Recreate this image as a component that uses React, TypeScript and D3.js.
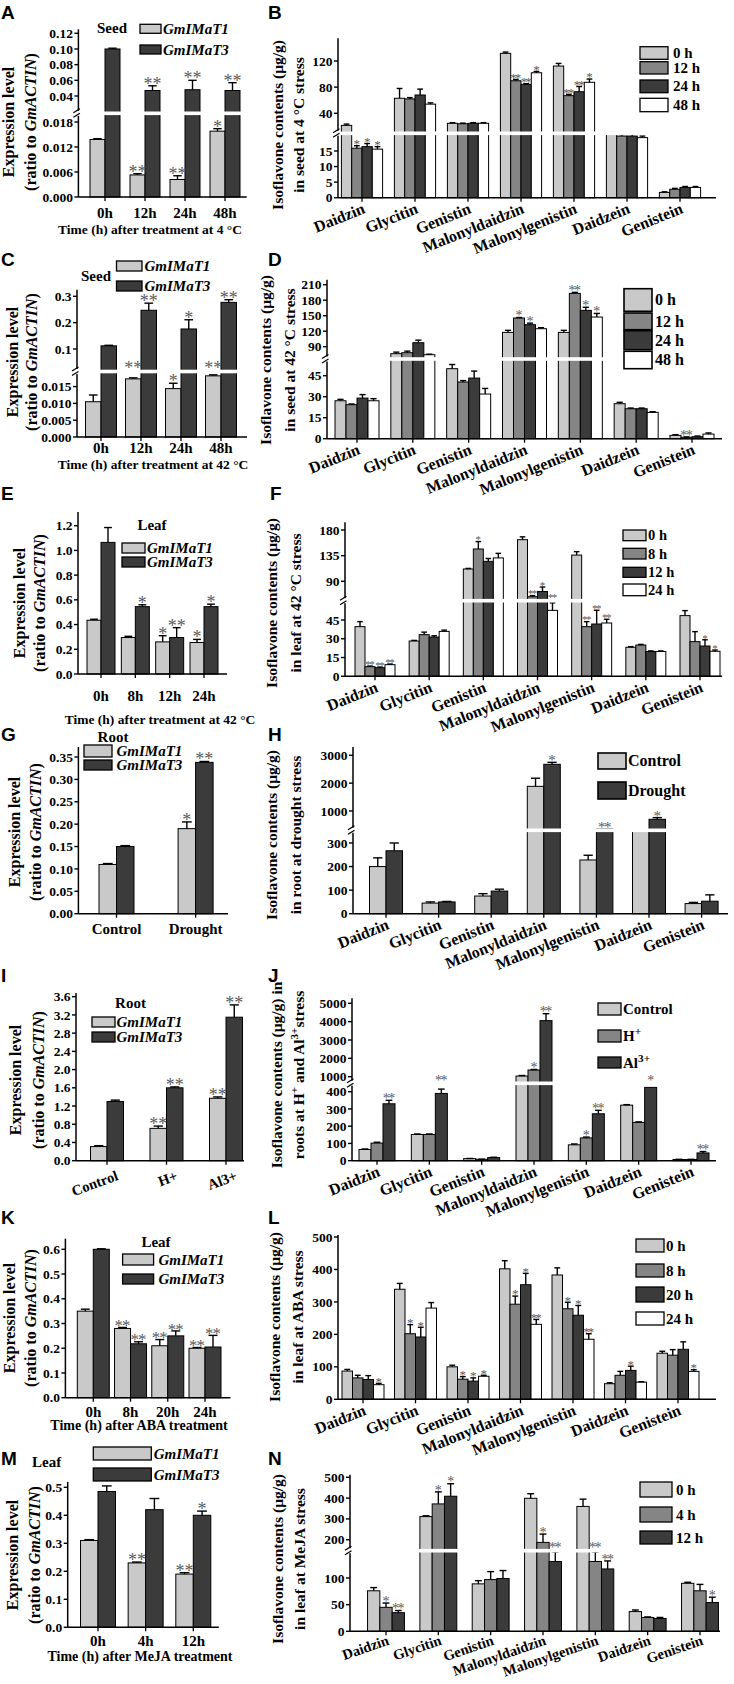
import React from "react";
import * as d3 from "d3";

const SERIF = "'Liberation Serif','Times New Roman',Times,serif";
const SANS = "'Liberation Sans',Arial,Helvetica,sans-serif";
const LIGHT = "#c9c9c9";
const MID = "#858585";
const DARK = "#3b3b3b";
const WHITE = "#ffffff";
const STAR = "#5a5a5a";

// ---------- categories / labels ----------
const hoursA = ["0h", "12h", "24h", "48h"];
const hoursE = ["0h", "8h", "12h", "24h"];
const hoursK = ["0h", "8h", "20h", "24h"];
const hoursM = ["0h", "4h", "12h"];
const droughtCats = ["Control", "Drought"];
const ionCats = ["Control", "H+", "Al3+"];
const compounds = ["Daidzin", "Glycitin", "Genistin", "Malonyldaidzin", "Malonylgenistin", "Daidzein", "Genistein"];
const genes = ["GmIMaT1", "GmIMaT3"];
const legB = ["0 h", "12 h", "24 h", "48 h"];
const legF = ["0 h", "8 h", "12 h", "24 h"];
const legL = ["0 h", "8 h", "20 h", "24 h"];
const legN = ["0 h", "4 h", "12 h"];
const legH = ["Control", "Drought"];
const legJ = ["Control", "H^+", "Al^3+"];

// ---------- A ----------
const aT1 = [0.0138, 0.0053, 0.0042, 0.0158];
const aT1Err = [0.0002, 0.0003, 0.0009, 0.0006];
const aT3 = [0.1, 0.047, 0.048, 0.047];
const aT3Err = [0.001, 0.006, 0.012, 0.01];
const aT1Sig = ["", "**", "**", "*"];
const aT3Sig = ["", "**", "**", "**"];
const aTicksLow = [0, 0.006, 0.012, 0.018];
const aTicksUp = [0.04, 0.06, 0.08, 0.1, 0.12];

// ---------- B ----------
const b0h = [21.5, 63, 24.7, 131.7, 112.3, 20.4, 1.7];
const b12h = [15.9, 62, 24, 89.8, 67, 19.8, 2.7];
const b24h = [16.4, 68, 24.7, 84.3, 73, 19.8, 3.3];
const b48h = [15.6, 54, 24.7, 102, 87.4, 19.3, 3.3];
const b0hErr = [2, 15, 1, 2, 4, 0.5, 0.2];
const b12hErr = [0.8, 2, 1, 2, 2, 0.5, 0.3];
const b24hErr = [1, 9, 1, 1, 8, 0.5, 0.3];
const b48hErr = [0.8, 2, 1, 2, 5, 0.5, 0.3];
const b0hSig = ["", "", "", "", "", "", ""];
const b12hSig = ["*", "", "", "**", "**", "", ""];
const b24hSig = ["*", "", "", "**", "**", "", ""];
const b48hSig = ["*", "", "", "*", "*", "", ""];
const bTicksLow = [0, 5, 10, 15];
const bTicksUp = [40, 80, 120];

// ---------- C ----------
const cT1 = [0.0105, 0.0173, 0.0144, 0.0182];
const cT1Err = [0.002, 0.0003, 0.0016, 0.0003];
const cT3 = [0.112, 0.247, 0.176, 0.277];
const cT3Err = [0.002, 0.027, 0.035, 0.01];
const cT1Sig = ["", "**", "*", "**"];
const cT3Sig = ["", "**", "*", "**"];
const cTicksLow = [0, 0.005, 0.01, 0.015];
const cTicksUp = [0.1, 0.2, 0.3];

// ---------- D ----------
const d0h = [27.1, 76.5, 50, 117.7, 117.7, 25, 2.4];
const d12h = [24.3, 78.4, 40.5, 145.5, 193.2, 21.4, 1];
const d24h = [29, 97.7, 43.3, 132.6, 160.3, 21.4, 1.4];
const d48h = [27.1, 74.5, 31.9, 124.8, 147.4, 18.8, 3.3];
const d0hErr = [1, 3, 3, 4, 4, 1, 0.5];
const d12hErr = [0.5, 3, 1, 1, 2, 0.5, 0.3];
const d24hErr = [2.5, 5, 5, 3, 6, 0.5, 0.5];
const d48hErr = [1.5, 1, 4, 2, 7, 0.5, 0.8];
const d0hSig = ["", "", "", "", "", "", ""];
const d12hSig = ["", "", "", "*", "**", "", "**"];
const d24hSig = ["", "", "", "*", "*", "", ""];
const d48hSig = ["", "", "", "", "*", "", ""];
const dTicksLow = [0, 15, 30, 45];
const dTicksUp = [90, 120, 150, 180, 210];

// ---------- E ----------
const eT1 = [0.435, 0.295, 0.26, 0.255];
const eT1Err = [0.008, 0.01, 0.05, 0.025];
const eT3 = [1.065, 0.545, 0.295, 0.545];
const eT3Err = [0.12, 0.015, 0.08, 0.02];
const eT1Sig = ["", "", "*", "*"];
const eT3Sig = ["", "*", "**", "*"];
const eTicks = [0, 0.2, 0.4, 0.6, 0.8, 1.0, 1.2];

// ---------- F ----------
const f0h = [39.7, 28.2, 111.6, 163, 136, 23.2, 48.5];
const f8h = [7.7, 33.3, 146.7, 63, 39.7, 25, 27.7];
const f12h = [6.9, 31.4, 125, 72, 41.8, 19.8, 24.2];
const f24h = [9.3, 35.9, 131, 52.7, 42.6, 19.8, 20];
const f0hErr = [4, 0.5, 1, 5, 6, 0.5, 4];
const f8hErr = [0.5, 2, 13, 2, 4, 0.5, 8];
const f12hErr = [0.5, 1, 5, 8, 11, 0.5, 5];
const f24hErr = [0.5, 1, 8, 6, 3, 0.5, 1];
const f0hSig = ["", "", "", "", "", "", ""];
const f8hSig = ["**", "", "*", "**", "**", "", ""];
const f12hSig = ["**", "", "", "*", "**", "", "*"];
const f24hSig = ["**", "", "", "**", "**", "", "*"];
const fTicksLow = [0, 15, 30, 45];
const fTicksUp = [90, 135, 180];

// ---------- G ----------
const gT1 = [0.11, 0.19];
const gT1Err = [0.002, 0.015];
const gT3 = [0.15, 0.338];
const gT3Err = [0.002, 0.002];
const gT1Sig = ["", "*"];
const gT3Sig = ["", "**"];
const gTicks = [0, 0.05, 0.1, 0.15, 0.2, 0.25, 0.3, 0.35];

// ---------- H ----------
const hControl = [200, 45, 75, 1886, 228, 352, 43];
const hControlErr = [37, 5, 10, 290, 20, 0, 5];
const hDrought = [267, 50, 96, 2677, 354, 702, 53];
const hDroughtErr = [33, 2, 8, 70, 0, 60, 27];
const hControlSig = ["", "", "", "", "", "", ""];
const hDroughtSig = ["", "", "", "*", "**", "*", ""];
const hTicksLow = [0, 100, 200, 300];
const hTicksUp = [1000, 2000, 3000];

// ---------- I ----------
const iT1 = [0.31, 0.71, 1.37];
const iT1Err = [0.02, 0.05, 0.03];
const iT3 = [1.3, 1.6, 3.15];
const iT3Err = [0.03, 0.02, 0.27];
const iT1Sig = ["", "**", "**"];
const iT3Sig = ["", "**", "**"];
const iTicks = [0, 0.4, 0.8, 1.2, 1.6, 2.0, 2.4, 2.8, 3.2, 3.6];

// ---------- J ----------
const jControl = [65, 152, 12, 1036, 92, 322, 7];
const jControlErr = [3, 3, 1, 30, 5, 3, 1];
const jH = [102, 152, 8, 1364, 132, 222, 7];
const jHErr = [5, 3, 1, 30, 5, 3, 1];
const jAl = [330, 390, 18, 4055, 272, 425, 45];
const jAlErr = [20, 25, 2, 380, 20, 0, 8];
const jControlSig = ["", "", "", "", "", "", ""];
const jHSig = ["", "", "", "*", "*", "", ""];
const jAlSig = ["**", "**", "", "**", "**", "*", "**"];
const jTicksLow = [0, 100, 200, 300, 400];
const jTicksUp = [1000, 2000, 3000, 4000, 5000];

// ---------- K ----------
const kT1 = [0.35, 0.28, 0.21, 0.2];
const kT1Err = [0.008, 0.004, 0.025, 0.003];
const kT3 = [0.6, 0.218, 0.25, 0.205];
const kT3Err = [0.002, 0.008, 0.02, 0.047];
const kT1Sig = ["", "**", "**", "**"];
const kT3Sig = ["", "**", "**", "**"];
const kTicks = [0, 0.1, 0.2, 0.3, 0.4, 0.5, 0.6];

// ---------- L ----------
const l0h = [87, 339, 100, 402, 383, 48, 142];
const l8h = [66, 202, 62, 293, 279, 74, 136];
const l20h = [61, 192, 56, 353, 259, 89, 154];
const l24h = [45, 281, 71, 231, 185, 53, 86];
const l0hErr = [5, 18, 5, 25, 22, 3, 6];
const l8hErr = [8, 28, 8, 25, 20, 12, 17];
const l20hErr = [12, 30, 10, 35, 30, 13, 23];
const l24hErr = [4, 17, 3, 15, 17, 1, 5];
const l0hSig = ["", "", "", "", "", "", ""];
const l8hSig = ["", "*", "*", "*", "*", "", ""];
const l20hSig = ["", "*", "*", "*", "*", "*", ""];
const l24hSig = ["*", "", "*", "**", "**", "", "*"];
const lTicks = [0, 100, 200, 300, 400, 500];

// ---------- M ----------
const mT1 = [0.31, 0.23, 0.19];
const mT1Err = [0.003, 0.003, 0.005];
const mT3 = [0.485, 0.42, 0.4];
const mT3Err = [0.02, 0.04, 0.015];
const mT1Sig = ["", "**", "**"];
const mT3Sig = ["", "", "*"];
const mTicks = [0, 0.1, 0.2, 0.3, 0.4, 0.5];

// ---------- N ----------
const n0h = [76, 311, 89, 399, 360, 37, 90];
const n4h = [45, 372, 97, 187, 131, 26, 76];
const n12h = [35, 409, 99, 131, 117, 24, 54];
const n0hErr = [6, 4, 6, 22, 35, 3, 2];
const n4hErr = [8, 58, 15, 40, 18, 1, 12];
const n12hErr = [4, 60, 15, 18, 15, 2, 10];
const n0hSig = ["", "", "", "", "", "", ""];
const n4hSig = ["*", "*", "", "*", "**", "", ""];
const n12hSig = ["**", "*", "", "**", "**", "", "*"];
const nTicksLow = [0, 50, 100];
const nTicksUp = [200, 300, 400, 500];

// ---------- helpers ----------
const ser = (names: string[], colors: string[], vals: number[][], errs: number[][], sigs: string[][]) =>
  names.map((name, i) => ({ name, color: colors[i], vals: vals[i], errs: errs[i], sig: sigs[i] }));

function richLabel(s: string) {
  const i = s.indexOf("^");
  if (i < 0) return s;
  return [
    <tspan key="a">{s.slice(0, i)}</tspan>,
    <tspan key="b" baselineShift="super" fontSize="75%">{s.slice(i + 1)}</tspan>,
  ];
}

function parts(p: any[]) {
  return p.map((q: any, k: number) => {
    if (q[1] === "i") return <tspan key={k} fontStyle="italic">{q[0]}</tspan>;
    if (q[1] === "s") return <tspan key={k} baselineShift="super" fontSize="72%">{q[0]}</tspan>;
    return <tspan key={k}>{q[0]}</tspan>;
  });
}

const exprTitle = [[["Expression level"]], [["(ratio to "], ["GmACTIN", "i"], [")"]]];
const isoTitle = (l2: any[]) => [[["Isoflavone contents (\u03bcg/g)"]], l2];

function Panel({ c }: { c: any }) {
  const low = d3.scaleLinear().domain(c.low.d).range(c.low.r);
  const up = c.up ? d3.scaleLinear().domain(c.up.d).range(c.up.r) : null;
  const thr = up ? low.invert(c.breakY) : Infinity;
  const sc = (v: number) => (up && v > thr ? up : low);
  const x = d3.scalePoint<string>().domain(c.cats).range(c.centers);
  const n = c.series.length;
  const bw = c.barW;
  const starFs = c.starFs || 14;
  const starLs = c.starLs !== undefined ? c.starLs : -1.5;
  const tickFs = c.tickFs || 13.5;

  const bars: any[] = [];
  const errs: any[] = [];
  const stars: any[] = [];
  c.cats.forEach((cat: string, j: number) => {
    const cx = x(cat) as number;
    c.series.forEach((s: any, i: number) => {
      const v = s.vals[j];
      const s0 = sc(v);
      const x0 = cx - (n * bw) / 2 + i * bw;
      const yv = s0(v);
      bars.push(
        <rect key={`b${i}-${j}`} x={x0} y={yv} width={bw} height={c.baseY - yv} fill={s.color} stroke="#000" strokeWidth={1} />
      );
      const e = s.errs[j];
      const ye = s0(v + e);
      const bc = x0 + bw / 2;
      if (e > 0) {
        errs.push(
          <g key={`e${i}-${j}`} stroke="#000" strokeWidth={1.4}>
            <line x1={bc} x2={bc} y1={yv} y2={ye} />
            <line x1={bc - bw * 0.28} x2={bc + bw * 0.28} y1={ye} y2={ye} />
          </g>
        );
      }
      const sg = s.sig[j];
      if (sg) {
        let bottom = ye - 1.5;
        if (up && bottom > c.breakY - 3 && bottom < c.breakY + 6) bottom = c.breakY - 3;
        stars.push(
          <text key={`s${i}-${j}`} x={bc + (sg.length > 1 ? starLs / 2 : 0)} y={bottom + starFs * 0.3} textAnchor="middle" fontSize={starFs} fill={STAR} fontFamily={SERIF} letterSpacing={sg.length > 1 ? starLs : 0}>
            {sg}
          </text>
        );
      }
    });
  });

  const tickEls: any[] = [];
  const addTicks = (scale: any, ticks: number[], fmt: string, key: string) => {
    const f = d3.format(fmt);
    ticks.forEach((t, k) => {
      const y = scale(t);
      tickEls.push(
        <g key={`${key}${k}`}>
          <line x1={c.axisX - 4} x2={c.axisX} y1={y} y2={y} stroke="#000" strokeWidth={1.4} />
          <text x={c.axisX - 5.5} y={y + tickFs * 0.34} textAnchor="end" fontSize={tickFs} fontWeight="bold" fontFamily={SERIF}>
            {f(t)}
          </text>
        </g>
      );
    });
  };
  addTicks(low, c.lowTicks, c.lowFmt, "l");
  if (up) addTicks(up, c.upTicks, c.upFmt, "u");

  const cl = c.cat;
  const catEls = c.cats.map((cat: string, j: number) => {
    const cx = x(cat) as number;
    if (cl.rotate) {
      const tx = cx + cl.dx;
      const ty = c.baseY + cl.dy;
      return (
        <text key={`c${j}`} transform={`translate(${tx},${ty}) rotate(${cl.rotate})`} textAnchor="end" fontSize={cl.fs} fontWeight="bold" fontFamily={SERIF}>
          {cat}
        </text>
      );
    }
    return (
      <text key={`c${j}`} x={cx} y={c.baseY + cl.dy} textAnchor="middle" fontSize={cl.fs} fontWeight="bold" fontFamily={SERIF}>
        {cat}
      </text>
    );
  });

  const yt = c.yTitle;
  const lg = c.legend;

  return (
    <g>
      <text x={c.letter[1]} y={c.letter[2]} fontSize={19} fontWeight="bold" fontFamily={SANS}>
        {c.letter[0]}
      </text>
      {bars}
      {errs}
      {up && <rect x={c.axisX + 0.8} y={c.breakY - 1.8} width={c.axisEnd - c.axisX} height={3.6} fill="#fff" />}
      {up ? (
        <g stroke="#000" strokeWidth={1.5}>
          <line x1={c.axisX} x2={c.axisX} y1={c.topY} y2={c.breakY - 2.5} />
          <line x1={c.axisX} x2={c.axisX} y1={c.breakY + 2.5} y2={c.baseY} />
          <line x1={c.axisX - 5} x2={c.axisX + 1.5} y1={c.breakY - 0.5} y2={c.breakY - 4.5} strokeWidth={1.3} />
          <line x1={c.axisX - 5} x2={c.axisX + 1.5} y1={c.breakY + 4} y2={c.breakY} strokeWidth={1.3} />
        </g>
      ) : (
        <line x1={c.axisX} x2={c.axisX} y1={c.topY} y2={c.baseY} stroke="#000" strokeWidth={1.5} />
      )}
      <line x1={c.axisX} x2={c.axisEnd} y1={c.baseY} y2={c.baseY} stroke="#000" strokeWidth={1.5} />
      {c.cats.map((cat: string, j: number) => (
        <line key={`xt${j}`} x1={x(cat) as number} x2={x(cat) as number} y1={c.baseY} y2={c.baseY + 4} stroke="#000" strokeWidth={1.3} />
      ))}
      {tickEls}
      {catEls}
      {stars}
      {yt.lines.map((ln: any, k: number) => (
        <text key={`yt${k}`} transform={`translate(${yt.xs[k]},${yt.cy}) rotate(-90)`} textAnchor="middle" fontSize={yt.fs} fontWeight="bold" fontFamily={SERIF}>
          {parts(ln)}
        </text>
      ))}
      {c.xTitle && (
        <text x={c.xTitle.x} y={c.xTitle.y} textAnchor="middle" fontSize={c.xTitle.fs} fontWeight="bold" fontFamily={SERIF}>
          {c.xTitle.text}
        </text>
      )}
      {lg && (
        <g>
          {lg.title && (
            <text x={lg.titleX} y={lg.titleY} textAnchor="middle" fontSize={15} fontWeight="bold" fontFamily={SERIF}>
              {lg.title}
            </text>
          )}
          {c.series.map((s: any, i: number) => {
            const [y0, y1] = lg.boxes[i];
            return (
              <g key={`lg${i}`}>
                <rect x={lg.boxX} y={y0} width={lg.boxW} height={y1 - y0} fill={s.color} stroke="#000" strokeWidth={lg.sw || 1.3} />
                <text x={lg.labelX} y={(y0 + y1) / 2 + lg.fs * 0.34} fontSize={lg.fs} fontWeight="bold" fontStyle={lg.italic ? "italic" : "normal"} fontFamily={SERIF}>
                  {richLabel(s.name)}
                </text>
              </g>
            );
          })}
        </g>
      )}
    </g>
  );
}

const two = [LIGHT, DARK];
const four = [LIGHT, MID, DARK, WHITE];
const three = [LIGHT, MID, DARK];
const rotCat = { rotate: -22, dx: 4, dy: 15, fs: 16 };
const rotCatN = { rotate: -19, dx: 4, dy: 13, fs: 14.5 };
const ISO_FS = 15.5;

const panels: any[] = [
  {
    letter: ["A", 1, 19],
    axisX: 78.4, axisEnd: 246.7, baseY: 197, topY: 29.3,
    low: { d: [0, 0.018], r: [197, 122] }, up: { d: [0.04, 0.12], r: [96, 33.3] }, breakY: 113.3,
    lowTicks: aTicksLow, upTicks: aTicksUp, lowFmt: ".3f", upFmt: ".2f",
    cats: hoursA, centers: [105, 225], barW: 15, starFs: 18, starLs: 0,
    series: ser(genes, two, [aT1, aT3], [aT1Err, aT3Err], [aT1Sig, aT3Sig]),
    cat: { rotate: 0, dy: 21, fs: 15 },
    yTitle: { lines: exprTitle, xs: [14, 36], cy: 122, fs: 16 },
    xTitle: { text: "Time (h) after treatment at 4 \u00b0C", x: 150, y: 234, fs: 13.5 },
    legend: { title: "Seed", titleX: 112, titleY: 33, boxX: 140, boxW: 21, boxes: [[24.3, 33.3], [45, 54]], labelX: 163, italic: true, fs: 15 },
  },
  {
    letter: ["B", 268, 19],
    axisX: 338, axisEnd: 716, baseY: 197.7, topY: 38.3,
    low: { d: [0, 15], r: [197.7, 151] }, up: { d: [40, 120], r: [113.3, 61] }, breakY: 133.3,
    lowTicks: bTicksLow, upTicks: bTicksUp, lowFmt: "d", upFmt: "d",
    cats: compounds, centers: [362, 680], barW: 10.3, starFs: 13, starLs: -2,
    series: ser(legB, four, [b0h, b12h, b24h, b48h], [b0hErr, b12hErr, b24hErr, b48hErr], [b0hSig, b12hSig, b24hSig, b48hSig]),
    cat: rotCat,
    yTitle: { lines: isoTitle([["in seed at 4 \u00b0C stress"]]), xs: [283, 304], cy: 125, fs: ISO_FS },
    legend: { boxX: 640, boxW: 28, boxes: [[46.7, 59.3], [61.7, 74], [80, 92.7], [98.3, 111.7]], labelX: 673, fs: 15 },
  },
  {
    letter: ["C", 1, 266],
    axisX: 77, axisEnd: 247, baseY: 437, topY: 289.7,
    low: { d: [0, 0.015], r: [437, 386.6] }, up: { d: [0.1, 0.3], r: [349, 296.3] }, breakY: 371.5,
    lowTicks: cTicksLow, upTicks: cTicksUp, lowFmt: ".3f", upFmt: ".1f",
    cats: hoursA, centers: [101, 221], barW: 15.5, starFs: 18, starLs: 0,
    series: ser(genes, two, [cT1, cT3], [cT1Err, cT3Err], [cT1Sig, cT3Sig]),
    cat: { rotate: 0, dy: 16, fs: 15 },
    yTitle: { lines: exprTitle, xs: [18, 37], cy: 362, fs: 16 },
    xTitle: { text: "Time (h) after treatment at 42 \u00b0C", x: 153, y: 469, fs: 13.5 },
    legend: { title: "Seed", titleX: 96, titleY: 281, boxX: 116.5, boxW: 25.5, boxes: [[261, 271], [281, 291]], labelX: 144.5, italic: true, fs: 15 },
  },
  {
    letter: ["D", 268, 266],
    axisX: 327, axisEnd: 722, baseY: 438.7, topY: 279.7,
    low: { d: [0, 45], r: [438.7, 375.7] }, up: { d: [90, 210], r: [346.7, 284.7] }, breakY: 359,
    lowTicks: dTicksLow, upTicks: dTicksUp, lowFmt: "d", upFmt: "d",
    cats: compounds, centers: [357, 692], barW: 11, starFs: 14,
    series: ser(legB, four, [d0h, d12h, d24h, d48h], [d0hErr, d12hErr, d24hErr, d48hErr], [d0hSig, d12hSig, d24hSig, d48hSig]),
    cat: rotCat,
    yTitle: { lines: isoTitle([["in seed at 42 \u00b0C stress"]]), xs: [271, 295], cy: 360, fs: ISO_FS },
    legend: { boxX: 624, boxW: 28, boxes: [[288.7, 311.3], [313, 329.7], [330.7, 349.7], [351.3, 368.7]], labelX: 655, fs: 16, sw: 1.6 },
  },
  {
    letter: ["E", 1, 500],
    axisX: 78, axisEnd: 227, baseY: 674, topY: 512,
    low: { d: [0, 1.2], r: [674, 525.7] },
    lowTicks: eTicks, lowFmt: ".1f",
    cats: hoursE, centers: [101, 204], barW: 14, starFs: 18, starLs: 0,
    series: ser(genes, two, [eT1, eT3], [eT1Err, eT3Err], [eT1Sig, eT3Sig]),
    cat: { rotate: 0, dy: 27, fs: 15 },
    yTitle: { lines: exprTitle, xs: [25, 45], cy: 603, fs: 16 },
    xTitle: { text: "Time (h) after treatment at 42 \u00b0C", x: 160, y: 724, fs: 13.5 },
    legend: { title: "Leaf", titleX: 152, titleY: 530, boxX: 122, boxW: 23, boxes: [[543, 553], [557, 567]], labelX: 147, italic: true, fs: 15 },
  },
  {
    letter: ["F", 270, 500],
    axisX: 345, axisEnd: 722, baseY: 676.3, topY: 522.3,
    low: { d: [0, 45], r: [676.3, 620] }, up: { d: [90, 180], r: [581.3, 530] }, breakY: 600.7,
    lowTicks: fTicksLow, upTicks: fTicksUp, lowFmt: "d", upFmt: "d",
    cats: compounds, centers: [375, 700], barW: 10,
    series: ser(legF, four, [f0h, f8h, f12h, f24h], [f0hErr, f8hErr, f12hErr, f24hErr], [f0hSig, f8hSig, f12hSig, f24hSig]),
    cat: rotCat, starFs: 11, starLs: -1.5,
    yTitle: { lines: isoTitle([["in leaf at 42 \u00b0C stress"]]), xs: [277, 301], cy: 603, fs: ISO_FS },
    legend: { boxX: 623, boxW: 23, boxes: [[530, 540.7], [548.3, 559], [567.3, 577.3], [584, 595.7]], labelX: 648, fs: 14.5 },
  },
  {
    letter: ["G", 1, 741],
    axisX: 78.4, axisEnd: 228, baseY: 913.7, topY: 747,
    low: { d: [0, 0.35], r: [913.7, 757] },
    lowTicks: gTicks, lowFmt: ".2f",
    cats: droughtCats, centers: [116.5, 195.6], barW: 17.5, starFs: 18, starLs: 0,
    series: ser(genes, two, [gT1, gT3], [gT1Err, gT3Err], [gT1Sig, gT3Sig]),
    cat: { rotate: 0, dy: 20, fs: 15 },
    yTitle: { lines: exprTitle, xs: [19.5, 41], cy: 832, fs: 16 },
    legend: { title: "Root", titleX: 113, titleY: 742, boxX: 84, boxW: 28, boxes: [[745, 757], [760, 770]], labelX: 116.5, italic: true, fs: 15 },
  },
  {
    letter: ["H", 268, 741],
    axisX: 353, axisEnd: 728, baseY: 913.7, topY: 747,
    low: { d: [0, 300], r: [913.7, 843] }, up: { d: [1000, 3000], r: [811, 755.3] }, breakY: 830.3,
    lowTicks: hTicksLow, upTicks: hTicksUp, lowFmt: "d", upFmt: "d",
    cats: compounds, centers: [386, 701.6], barW: 16.5, starFs: 15,
    series: ser(legH, two, [hControl, hDrought], [hControlErr, hDroughtErr], [hControlSig, hDroughtSig]),
    cat: rotCat,
    yTitle: { lines: isoTitle([["in root at drought stress"]]), xs: [277, 301], cy: 835, fs: ISO_FS },
    legend: { boxX: 598, boxW: 28, boxes: [[753, 769], [782, 799]], labelX: 628, fs: 16, sw: 1.6 },
  },
  {
    letter: ["I", 1, 982],
    axisX: 76, axisEnd: 244, baseY: 1160.7, topY: 993,
    low: { d: [0, 3.6], r: [1160.7, 996.7] },
    lowTicks: iTicks, lowFmt: ".1f",
    cats: ionCats, centers: [107, 226], barW: 16.5, starFs: 18, starLs: 0,
    series: ser(genes, two, [iT1, iT3], [iT1Err, iT3Err], [iT1Sig, iT3Sig]),
    cat: { rotate: -20, dx: 12, dy: 19, fs: 14.5 },
    yTitle: { lines: exprTitle, xs: [20.5, 44], cy: 1080, fs: 16 },
    legend: { title: "Root", titleX: 130.5, titleY: 1008, boxX: 92, boxW: 23, boxes: [[1017, 1027], [1032, 1042]], labelX: 116.5, italic: true, fs: 15 },
  },
  {
    letter: ["J", 268, 982],
    axisX: 352, axisEnd: 716, baseY: 1160.7, topY: 998.3,
    low: { d: [0, 400], r: [1160.7, 1091.7] }, up: { d: [1000, 5000], r: [1076.7, 1003.3] }, breakY: 1083.3,
    lowTicks: jTicksLow, upTicks: jTicksUp, lowFmt: "d", upFmt: "d",
    cats: compounds, centers: [377, 691], barW: 12, starFs: 14,
    series: ser(legJ, three, [jControl, jH, jAl], [jControlErr, jHErr, jAlErr], [jControlSig, jHSig, jAlSig]),
    cat: rotCat,
    yTitle: {
      lines: [[["Isoflavone contents (\u03bcg/g) in"]], [["roots at H"], ["+", "s"], [" and Al"], ["3+", "s"], ["stress"]]],
      xs: [282, 304], cy: 1075, fs: ISO_FS,
    },
    legend: { boxX: 598, boxW: 23, boxes: [[1003, 1015], [1030, 1042], [1057, 1068]], labelX: 623, fs: 15 },
  },
  {
    letter: ["K", 1, 1224],
    axisX: 65.4, axisEnd: 230.5, baseY: 1397.7, topY: 1238.7,
    low: { d: [0, 0.6], r: [1397.7, 1249.3] },
    lowTicks: kTicks, lowFmt: ".1f",
    cats: hoursK, centers: [93.3, 205], barW: 16, starFs: 17, starLs: -1,
    series: ser(genes, two, [kT1, kT3], [kT1Err, kT3Err], [kT1Sig, kT3Sig]),
    cat: { rotate: 0, dy: 19, fs: 15 },
    yTitle: { lines: exprTitle, xs: [15, 36], cy: 1318, fs: 16 },
    xTitle: { text: "Time (h) after ABA treatment", x: 139, y: 1430, fs: 14 },
    legend: { title: "Leaf", titleX: 156, titleY: 1247, boxX: 122.6, boxW: 31, boxes: [[1254, 1265], [1274, 1284]], labelX: 158.4, italic: true, fs: 15 },
  },
  {
    letter: ["L", 268, 1224],
    axisX: 338, axisEnd: 716, baseY: 1399.3, topY: 1235,
    low: { d: [0, 500], r: [1399.3, 1237] },
    lowTicks: lTicks, lowFmt: "d",
    cats: compounds, centers: [363, 678], barW: 10.5, starFs: 13, starLs: -2,
    series: ser(legL, four, [l0h, l8h, l20h, l24h], [l0hErr, l8hErr, l20hErr, l24hErr], [l0hSig, l8hSig, l20hSig, l24hSig]),
    cat: rotCat,
    yTitle: { lines: isoTitle([["in leaf at ABA stress"]]), xs: [280, 303], cy: 1317, fs: ISO_FS },
    legend: { boxX: 636, boxW: 28, boxes: [[1239, 1252], [1264, 1277], [1287, 1302], [1312, 1325]], labelX: 666, fs: 15 },
  },
  {
    letter: ["M", 1, 1465],
    axisX: 67.7, axisEnd: 218.8, baseY: 1627.3, topY: 1482,
    low: { d: [0, 0.5], r: [1627.3, 1487.3] },
    lowTicks: mTicks, lowFmt: ".1f",
    cats: hoursM, centers: [98, 193.3], barW: 17.5, starFs: 18, starLs: 0,
    series: ser(genes, two, [mT1, mT3], [mT1Err, mT3Err], [mT1Sig, mT3Sig]),
    cat: { rotate: 0, dy: 19, fs: 15 },
    yTitle: { lines: exprTitle, xs: [18, 40], cy: 1555, fs: 16 },
    xTitle: { text: "Time (h) after MeJA treatment", x: 140, y: 1661, fs: 14 },
    legend: { title: "Leaf", titleX: 46.7, titleY: 1467, boxX: 93.3, boxW: 58, boxes: [[1447, 1460], [1468, 1481]], labelX: 153.7, italic: true, fs: 15 },
  },
  {
    letter: ["N", 268, 1465],
    axisX: 350, axisEnd: 720, baseY: 1631.3, topY: 1474.7,
    low: { d: [0, 100], r: [1631.3, 1578] }, up: { d: [200, 500], r: [1539.7, 1477.3] }, breakY: 1550.7,
    lowTicks: nTicksLow, upTicks: nTicksUp, lowFmt: "d", upFmt: "d",
    cats: compounds, centers: [386, 700], barW: 12.3, starFs: 14,
    series: ser(legN, three, [n0h, n4h, n12h], [n0hErr, n4hErr, n12hErr], [n0hSig, n4hSig, n12hSig]),
    cat: rotCatN,
    yTitle: { lines: isoTitle([["in leaf at MeJA stress"]]), xs: [283, 305], cy: 1559, fs: ISO_FS },
    legend: { boxX: 640, boxW: 32, boxes: [[1482, 1497], [1507, 1522], [1531, 1544]], labelX: 676, fs: 15 },
  },
];

export default function App() {
  return (
    <div style={{ width: 734, height: 1684, background: "#fff" }}>
      <style>{`html,body{margin:0;padding:0;background:#fff;}`}</style>
      <svg width={734} height={1684} viewBox="0 0 734 1684" style={{ display: "block" }} fontFamily={SERIF}>
        <rect x={0} y={0} width={734} height={1684} fill="#fff" />
        {panels.map((p, i) => (
          <Panel key={i} c={p} />
        ))}
      </svg>
    </div>
  );
}
